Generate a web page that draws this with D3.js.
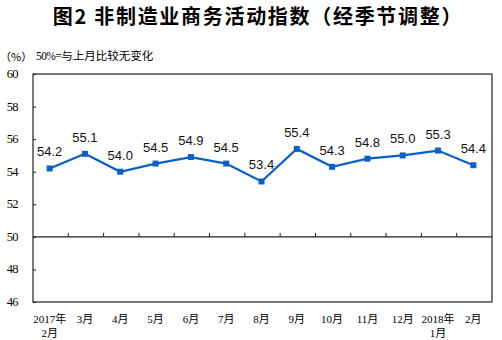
<!DOCTYPE html>
<html>
<head>
<meta charset="utf-8">
<script src="https://cdn.jsdelivr.net/npm/d3@7"></script>
<style>
  html, body { margin: 0; padding: 0; background: #fff; }
  svg { display: block; }
</style>
</head>
<body>
<svg id="chart" width="502" height="340"></svg>
<script>
// Monthly non-manufacturing business activity index (seasonally adjusted)
const months = ["2017年|2月", "3月", "4月", "5月", "6月", "7月", "8月", "9月", "10月", "11月", "12月", "2018年|1月", "2月"];
const values = [54.2, 55.1, 54.0, 54.5, 54.9, 54.5, 53.4, 55.4, 54.3, 54.8, 55.0, 55.3, 54.4];
const yTicks = [46, 48, 50, 52, 54, 56, 58, 60];

const svg = d3.select("#chart");
const margin = { left: 33, right: 10, top: 74, bottom: 38 };
const W = 502, H = 340;
const x0 = margin.left, x1 = W - margin.right;
const y0 = H - margin.bottom, y1 = margin.top;

const x = d3.scaleBand().domain(d3.range(months.length)).range([x0, x1]);
const y = d3.scaleLinear().domain([46, 60]).range([y0, y1]);
const cx = i => x(i) + x.bandwidth() / 2 - 1;

// Title
svg.append("text")
  .attr("x", 258).attr("y", 24)
  .attr("text-anchor", "middle")
  .attr("font-family", "'Noto Sans CJK SC', sans-serif")
  .attr("font-weight", "bold")
  .attr("font-size", 20)
  .attr("letter-spacing", 1.7)
  .text("图2 非制造业商务活动指数（经季节调整）");

// Unit and note
svg.append("text")
  .attr("x", 0).attr("y", 61)
  .attr("font-family", "'Noto Sans CJK SC', sans-serif")
  .attr("font-size", 11)
  .text("（%）");
const note = svg.append("text")
  .attr("x", 36).attr("y", 60)
  .attr("font-size", 11.5);
note.append("tspan")
  .attr("font-family", "'Liberation Serif', serif")
  .attr("letter-spacing", -0.6)
  .text("50%=");
note.append("tspan")
  .attr("font-family", "'Noto Sans CJK SC', sans-serif")
  .text("与上月比较无变化");

// Plot frame
svg.append("rect")
  .attr("x", x0).attr("y", y1)
  .attr("width", x1 - x0).attr("height", y0 - y1)
  .attr("fill", "none").attr("stroke", "#222").attr("stroke-width", 1.2);

// Y axis: inward ticks and serif labels
const yAxis = svg.append("g").attr("transform", `translate(${x0},0)`)
  .call(d3.axisRight(y).tickValues(yTicks).tickSize(3).tickFormat(""));
yAxis.select(".domain").remove();
yAxis.selectAll("line").attr("stroke", "#222");

svg.append("g").selectAll("text")
  .data(yTicks)
  .join("text")
  .attr("x", 18).attr("y", d => y(d) + 4)
  .attr("text-anchor", "end")
  .attr("font-family", "'Liberation Serif', serif")
  .attr("font-size", 12.5)
  .attr("letter-spacing", -0.6)
  .text(d => d);

// 50% reference line with category ticks
svg.append("line")
  .attr("x1", x0).attr("x2", x1)
  .attr("y1", y(50)).attr("y2", y(50))
  .attr("stroke", "#222").attr("stroke-width", 1.2);
svg.append("g").selectAll("line")
  .data(d3.range(1, months.length))
  .join("line")
  .attr("x1", i => x(i)).attr("x2", i => x(i))
  .attr("y1", y(50)).attr("y2", y(50) - 4)
  .attr("stroke", "#222");

// X labels (two-line where needed)
const xl = svg.append("g").selectAll("text")
  .data(months)
  .join("text")
  .attr("text-anchor", "middle")
  .attr("font-family", "'Liberation Serif', 'Noto Sans CJK SC', serif")
  .attr("font-size", 11);
xl.each(function (d, i) {
  const parts = d.split("|");
  const t = d3.select(this);
  parts.forEach((p, k) => {
    t.append("tspan")
      .attr("x", cx(i))
      .attr("y", 323 + k * 14)
      .text(p);
  });
});

// Series line
const line = d3.line().x((d, i) => cx(i)).y(d => y(d));
svg.append("path")
  .datum(values)
  .attr("d", line)
  .attr("fill", "none")
  .attr("stroke", "#0a5fc8")
  .attr("stroke-width", 2.2);

// Square markers
svg.append("g").selectAll("rect")
  .data(values)
  .join("rect")
  .attr("x", (d, i) => cx(i) - 3)
  .attr("y", d => y(d) - 3)
  .attr("width", 6).attr("height", 6)
  .attr("fill", "#0a5fc8");

// Value labels
svg.append("g").selectAll("text")
  .data(values)
  .join("text")
  .attr("x", (d, i) => cx(i))
  .attr("y", d => y(d) - 12)
  .attr("text-anchor", "middle")
  .attr("font-family", "'Liberation Sans', Arial, sans-serif")
  .attr("font-size", 13)
  .attr("fill", "#111")
  .text(d => d.toFixed(1));
</script>
</body>
</html>
